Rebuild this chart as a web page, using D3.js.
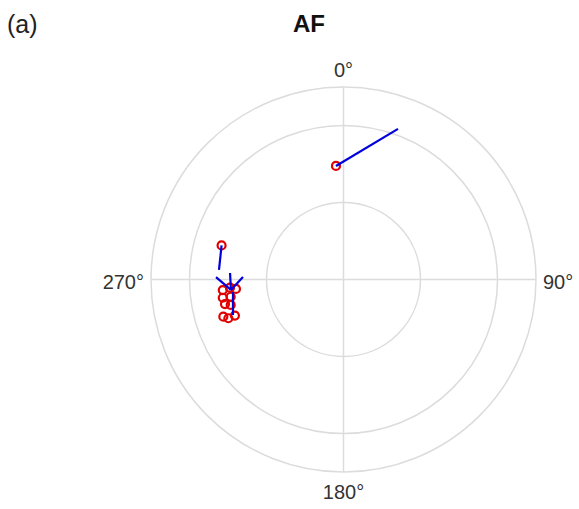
<!DOCTYPE html>
<html>
<head>
<meta charset="utf-8">
<script src="https://cdn.jsdelivr.net/npm/d3@7"></script>
<style>
  html, body { margin: 0; padding: 0; background: #fff; }
  svg { display: block; font-family: "Liberation Sans", Arial, Helvetica, sans-serif; }
</style>
</head>
<body>
<svg id="chart" width="579" height="509"></svg>
<script>
// Polar grid settings
const rTicks = [0.5, 1.0, 1.25];
const thetaTicks = [0, 90, 180, 270];
const thetaLabels = ["0°", "90°", "180°", "270°"];

// Observations (theta in degrees, clockwise from north)
const pointTheta = [356.2, 285.6, 265.0, 265.9, 265.0, 261.4, 261.3, 258.3, 257.3, 252.8, 251.4, 251.6];
const pointR     = [0.739, 0.822, 0.787, 0.739, 0.701, 0.793, 0.741, 0.786, 0.751, 0.817, 0.789, 0.743];

// Direction segments: start (theta0, r0) to end (theta1, r1)
const segTheta0 = [356.2, 285.6, 264.7, 264.7, 264.7, 263.5];
const segR0     = [0.739, 0.822, 0.734, 0.734, 0.734, 0.722];
const segTheta1 = [19.9, 274.4, 271.1, 273.3, 271.4, 252.2];
const segR1     = [1.040, 0.811, 0.828, 0.738, 0.653, 0.754];

const cx = 343.5, cy = 279.5;
const rScale = d3.scaleLinear().domain([0, 1.25]).range([0, 192.5]);
const aScale = d3.scaleLinear().domain([0, 360]).range([0, 2 * Math.PI]);

const px = (t, r) => cx + rScale(r) * Math.sin(aScale(t));
const py = (t, r) => cy - rScale(r) * Math.cos(aScale(t));

const svg = d3.select("#chart");

// Grid circles
svg.append("g").selectAll("circle")
  .data(rTicks).join("circle")
  .attr("cx", cx).attr("cy", cy)
  .attr("r", d => rScale(d))
  .attr("fill", "none")
  .attr("stroke", "#dcdcdc")
  .attr("stroke-width", 1.5);

// Spokes
svg.append("g").selectAll("line")
  .data(thetaTicks).join("line")
  .attr("x1", cx).attr("y1", cy)
  .attr("x2", d => px(d, 1.25)).attr("y2", d => py(d, 1.25))
  .attr("stroke", "#dcdcdc")
  .attr("stroke-width", 1.5);

// Angle labels
const labelPos = [
  { anchor: "middle", dx: 0, dy: -10 },
  { anchor: "start", dx: 7, dy: 9 },
  { anchor: "middle", dx: 0, dy: 27 },
  { anchor: "end", dx: -7, dy: 9 }
];
svg.append("g").selectAll("text")
  .data(thetaTicks).join("text")
  .attr("x", (d, i) => px(d, 1.25) + labelPos[i].dx)
  .attr("y", (d, i) => py(d, 1.25) + labelPos[i].dy)
  .attr("text-anchor", (d, i) => labelPos[i].anchor)
  .attr("font-size", 20)
  .attr("fill", "#333")
  .text((d, i) => thetaLabels[i]);

// Points
svg.append("g").selectAll("circle")
  .data(pointTheta.map((t, i) => [t, pointR[i]])).join("circle")
  .attr("cx", d => px(d[0], d[1]))
  .attr("cy", d => py(d[0], d[1]))
  .attr("r", 4)
  .attr("fill", "none")
  .attr("stroke", "#e00000")
  .attr("stroke-width", 2.2);

// Segments
svg.append("g").selectAll("line")
  .data(segTheta0.map((t, i) => ({ t0: t, r0: segR0[i], t1: segTheta1[i], r1: segR1[i] }))).join("line")
  .attr("x1", d => px(d.t0, d.r0)).attr("y1", d => py(d.t0, d.r0))
  .attr("x2", d => px(d.t1, d.r1)).attr("y2", d => py(d.t1, d.r1))
  .attr("stroke", "#0000dd")
  .attr("stroke-width", 2.2);

// Titles
svg.append("text")
  .attr("x", 7).attr("y", 33)
  .attr("font-size", 25)
  .attr("fill", "#222")
  .text("(a)");
svg.append("text")
  .attr("x", 309).attr("y", 32)
  .attr("text-anchor", "middle")
  .attr("font-size", 24)
  .attr("font-weight", "bold")
  .attr("fill", "#111")
  .text("AF");
</script>
</body>
</html>
